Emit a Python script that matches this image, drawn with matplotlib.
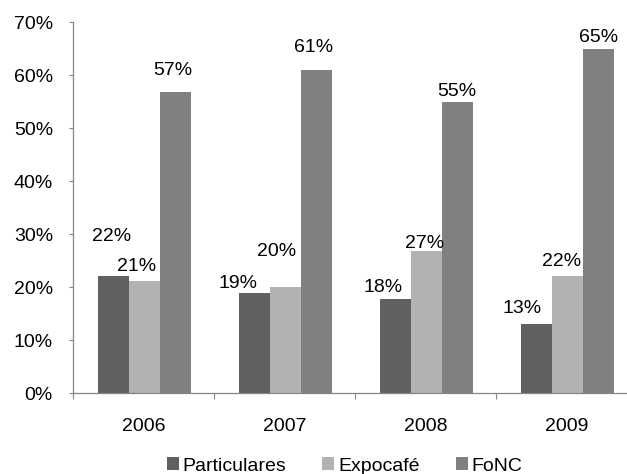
import matplotlib
matplotlib.use("Agg")
import matplotlib.pyplot as plt
import numpy as np
from matplotlib.ticker import FuncFormatter

plt.rcParams['font.family'] = ['Liberation Sans', 'DejaVu Sans']

years = ["2006", "2007", "2008", "2009"]
series_names = ["Particulares", "Expocafé", "FoNC"]
particulares = [22.0, 18.8, 17.8, 13.0]
expocafe = [21.1, 20.1, 26.8, 22.0]
fonc = [56.8, 61.0, 55.0, 64.9]
y_ticks = [0, 10, 20, 30, 40, 50, 60, 70]

colors = ["#606060", "#b2b2b2", "#808080"]
# label offsets in pixels (dx, dy) relative to bar top centre
label_offsets = [
    [(-2, 40), (-16, 10), (-12, 11), (-14, 16)],
    [(-8, 15), (-9, 35), (-2, 8), (-6, 15)],
    [(-2, 22), (-3, 22), (0, 10), (0, 12)],
]

W, H, DPI = 627, 474, 100
fig = plt.figure(figsize=(W / DPI, H / DPI), dpi=DPI)
ax = fig.add_axes([73 / W, 1 - 393 / H, 564 / W, (393 - 22.3) / H])

x = np.arange(len(years))
bw = 0.222
offsets = [-0.215, 0.005, 0.225]
data = [particulares, expocafe, fonc]
px2pt = 72 / DPI
for s, (name, vals, c, off) in enumerate(zip(series_names, data, colors, offsets)):
    bars = ax.bar(x + off, vals, bw, color=c, label=name, linewidth=0, zorder=2)
    for i, (b, v) in enumerate(zip(bars, vals)):
        dx, dy = label_offsets[s][i]
        ax.annotate(f"{round(v)}%", (b.get_x() + b.get_width() / 2, b.get_height()),
                    xytext=(dx * px2pt, dy * px2pt), textcoords="offset points",
                    ha="center", va="center", fontsize=14, color="#000000")

ax.set_xlim(-0.5, len(years) - 0.5)
ax.set_ylim(0, 70)
ax.set_yticks(y_ticks)
ax.yaxis.set_major_formatter(FuncFormatter(lambda v, p: f"{int(v)}%"))
ax.tick_params(axis='y', length=3, width=0.8, color="#868686", pad=11.5, labelsize=14)

ax.set_xticks(np.arange(len(years) + 1) - 0.5)
ax.set_xticklabels([])
ax.set_xticks(x, minor=True)
ax.set_xticklabels(years, minor=True)
ax.tick_params(axis='x', which='major', length=4, width=0.8, color="#868686", direction='out')
ax.tick_params(axis='x', which='minor', length=0, pad=18, labelsize=14)

for sp in ["top", "right"]:
    ax.spines[sp].set_visible(False)
for sp in ["left", "bottom"]:
    ax.spines[sp].set_color("#868686")
    ax.spines[sp].set_linewidth(0.9)

fig.legend(loc="center", bbox_to_anchor=(344.5 / W, 1 - 466 / H), ncol=3, frameon=False,
           fontsize=14, handlelength=0.62, handleheight=0.62, handletextpad=0.2,
           columnspacing=1.85, borderpad=0, borderaxespad=0)

fig.savefig("out.png", dpi=DPI)
